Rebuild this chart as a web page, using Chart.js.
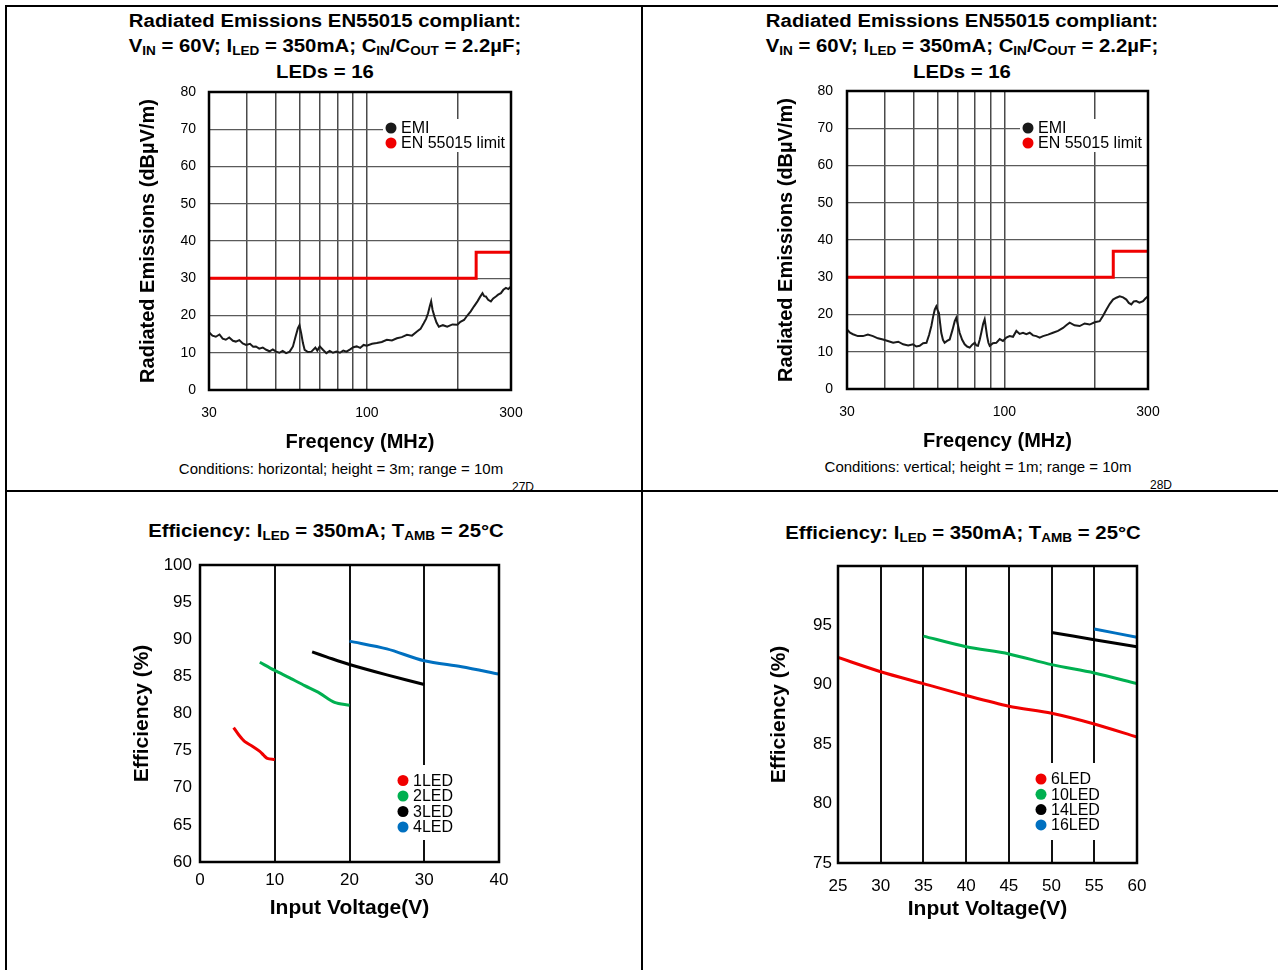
<!DOCTYPE html>
<html>
<head>
<meta charset="utf-8">
<script src="https://cdn.jsdelivr.net/npm/chart.js@4.4.1/dist/chart.umd.min.js"></script>
<style>
body { margin: 0; background: #fff; width: 1278px; height: 970px; overflow: hidden; position: relative;
       font-family: "Liberation Sans", Arial, Helvetica, sans-serif; color: #000; }
canvas { position: absolute; }
.rule { position: absolute; background: #000; z-index: 5; }
.ttl { position: absolute; width: 520px; text-align: center; font-weight: bold; font-size: 18px;
       line-height: 24.5px; transform: scaleX(1.13); white-space: nowrap; }
.ttl span { font-size: 12px; position: relative; top: 3px; }
.cond { position: absolute; width: 400px; text-align: center; font-size: 15px; line-height: 18px; white-space: nowrap; }
.tag { position: absolute; font-size: 12px; line-height: 14px; }
</style>
</head>
<body>

<div class="ttl" style="left:65px;top:9px">Radiated Emissions EN55015 compliant:<br>V<span>IN</span> = 60V; I<span>LED</span> = 350mA; C<span>IN</span>/C<span>OUT</span> = 2.2µF;<br>LEDs = 16</div>
<div class="ttl" style="left:702px;top:9px">Radiated Emissions EN55015 compliant:<br>V<span>IN</span> = 60V; I<span>LED</span> = 350mA; C<span>IN</span>/C<span>OUT</span> = 2.2µF;<br>LEDs = 16</div>
<div class="ttl" style="left:66px;top:519px">Efficiency: I<span>LED</span> = 350mA; T<span>AMB</span> = 25°C</div>
<div class="ttl" style="left:703px;top:521px">Efficiency: I<span>LED</span> = 350mA; T<span>AMB</span> = 25°C</div>

<canvas id="emiH" width="410" height="375" style="left:120px;top:80px"></canvas>
<canvas id="emiV" width="410" height="375" style="left:758px;top:80px"></canvas>
<canvas id="effLow" width="400" height="375" style="left:120px;top:550px"></canvas>
<canvas id="effHigh" width="400" height="375" style="left:758px;top:550px"></canvas>

<div class="cond" style="left:141px;top:460px">Conditions: horizontal; height = 3m; range = 10m</div>
<div class="cond" style="left:778px;top:458px">Conditions: vertical; height = 1m; range = 10m</div>
<div class="tag" style="left:512px;top:480px">27D</div>
<div class="tag" style="left:1150px;top:478px">28D</div>

<div class="rule" style="left:5px;top:5px;width:1273px;height:2px"></div>
<div class="rule" style="left:5px;top:5px;width:2px;height:965px"></div>
<div class="rule" style="left:641px;top:5px;width:2px;height:965px"></div>
<div class="rule" style="left:5px;top:490px;width:1273px;height:2px"></div>

<script>
// radiated emissions, horizontal antenna (MHz / dBuV/m)
var emi1Freq = [30, 30.8, 31.6, 32.5, 33.3, 34.1, 35, 36, 36.8, 37.8, 38.8, 39.8, 41, 42, 42.9, 44, 45.2, 46.4, 47.6, 48.8,
    50, 51.3, 52.6, 54, 55.5, 56.9, 58, 59.1, 59.8, 60.6, 61.4, 62.2, 63.8, 65.5, 67.5, 68.5, 69.8, 71.5, 73.4, 75.3,
    77.2, 79.3, 81.4, 83.5, 85.6, 88, 90.2, 92.5, 95, 97.5, 99.9, 104, 107.8, 112, 116.4, 121, 125.7, 130.5, 135.7, 141,
    146.5, 150.5, 154.2, 157, 159.4, 161.5, 163.2, 165, 167.4, 170, 173.1, 178.5, 184.5, 192, 199.3, 204, 209.7, 215,
    220.7, 226, 232.3, 237, 241.4, 244.5, 247.6, 252, 257.3, 262, 267.4, 272, 277.8, 283, 288.7, 294, 300];
var emi1Level = [15.5, 14.6, 14.3, 14.9, 13.8, 13.5, 14.1, 13.2, 13.0, 13.4, 12.5, 12.1, 12.4, 11.6, 11.7, 11.1, 11.4, 10.8, 10.4, 10.9,
    10.3, 10.0, 10.5, 9.9, 10.3, 11.7, 14.2, 16.6, 17.4, 15.2, 12.6, 10.8, 10.2, 10.3, 11.4, 10.6, 11.7, 10.8, 9.9, 10.5,
    10.0, 10.3, 10.0, 10.6, 10.3, 10.9, 11.5, 11.7, 11.3, 12.1, 11.9, 12.4, 12.6, 12.9, 13.5, 13.3, 13.9, 14.2, 14.8, 14.6,
    15.7, 16.4, 17.9, 19.1, 20.6, 22.5, 23.8, 21.5, 19.7, 18.1, 17.0, 17.4, 17.0, 17.6, 17.5, 18.3, 18.8, 20.0,
    21.1, 22.4, 23.8, 25.0, 26.0, 25.2, 25.1, 24.2, 23.8, 24.6, 25.1, 25.6, 26.0, 26.9, 27.4, 27.1, 27.8];

// radiated emissions, vertical antenna
var emi2Freq = [30, 30.7, 31.4, 32.6, 33.9, 35.2, 36.6, 38, 39.5, 41, 42.7, 44.4, 46.1, 47.9, 49.7, 51, 52.3, 53.7, 55.1, 56.2,
    57.2, 58, 58.7, 59.4, 60, 60.6, 61.2, 61.7, 62.5, 63.3, 64.5, 65.8, 67.2, 68.4, 69.2, 70, 71, 72.4, 73.8, 75.2,
    76.7, 78.2, 79.7, 80.7, 81.7, 82.8, 83.8, 85, 86, 86.8, 87.6, 88.5, 89.4, 91.6, 94, 96.5, 98.9, 101.5, 104.1, 106.8,
    109.6, 112.4, 115.3, 118.3, 121.4, 124.5, 127.7, 131, 134.4, 139.6, 145, 150.7, 156.6, 160.5, 164.8, 171, 177.9, 184.8,
    192, 199.5, 207.3, 212.5, 218.1, 223.7, 229.5, 235.5, 241.6, 248, 254.2, 259, 264.1, 269, 274.4, 281, 288.8, 294, 300];
var emi2Level = [16.0, 15.1, 14.7, 14.2, 14.2, 14.6, 14.2, 13.6, 13.3, 12.9, 12.4, 12.7, 12.0, 11.7, 12.0, 11.4, 11.6, 12.3, 12.4, 14.5,
    16.9, 19.5, 21.3, 22.2, 21.2, 20.4, 17.5, 15.1, 13.2, 12.4, 12.9, 13.3, 15.8, 18.2, 19.1, 17.4, 15.1, 13.2, 12.0, 11.4,
    11.1, 11.9, 12.4, 11.7, 11.6, 13.2, 15.1, 17.5, 18.7, 16.5, 14.2, 12.4, 11.6, 12.3, 12.4, 13.4, 12.9, 13.8, 14.2, 14.0,
    15.6, 14.8, 15.1, 14.7, 15.1, 14.4, 14.2, 13.8, 14.2, 14.6, 15.1, 15.6, 16.4, 17.1, 17.8, 17.1, 16.9, 17.6,
    17.3, 17.9, 18.2, 19.6, 21.3, 22.8, 24.0, 24.5, 24.9, 24.6, 24.0, 23.1, 22.7, 23.5, 23.6, 23.2, 23.6, 24.3, 24.9];

// EN 55015 limit
var limitFreq = [30, 230, 230, 300];
var limitLevel = [30, 30, 37, 37];

var freqTicks = [30, 40, 50, 60, 70, 80, 90, 100, 200, 300];
var freqLabels = [30, 100, 300];

// efficiency, 1..4 LEDs
var vin1 = [4.5, 5.2, 6, 7, 8, 8.5, 9, 10];
var eff1 = [78.1, 77.1, 76.2, 75.6, 74.9, 74.4, 73.95, 73.8];
var vin2 = [8, 10, 12, 14, 16, 18, 20];
var eff2 = [86.9, 85.8, 84.8, 83.75, 82.75, 81.5, 81.1];
var vin3 = [15, 17, 20, 25, 30];
var eff3 = [88.3, 87.6, 86.6, 85.2, 83.9];
var vin4 = [20, 25, 30, 35, 40];
var eff4 = [89.75, 88.7, 87.1, 86.3, 85.3];

// efficiency, 6..16 LEDs
var vin6 = [25, 30, 35, 40, 45, 50, 55, 60];
var eff6 = [92.3, 91.1, 90.1, 89.1, 88.2, 87.6, 86.7, 85.6];
var vin10 = [35, 40, 45, 50, 55, 60];
var eff10 = [94.1, 93.2, 92.6, 91.7, 91.0, 90.1];
var vin14 = [50, 55, 60];
var eff14 = [94.4, 93.8, 93.2];
var vin16 = [55, 60];
var eff16 = [94.7, 94.0];

var RED = '#f00000', GREEN = '#00b050', BLACK = '#000000', BLUE = '#0070c0';

Chart.defaults.font.family = '"Liberation Sans", Arial, Helvetica, sans-serif';
Chart.defaults.color = '#000';
Chart.defaults.animation = false;

function pts(xs, ys) {
    return xs.map(function (x, i) { return { x: x, y: ys[i] }; });
}

function series(label, xs, ys, color, width, tension) {
    return {
        label: label, data: pts(xs, ys), borderColor: color, backgroundColor: color,
        borderWidth: width, pointRadius: 0, showLine: true, tension: tension
    };
}

// fixed axis boxes, so the plot area sits where the layout padding says
function fixX(h) {
    return function (s) { s.height = h; s.paddingLeft = 0; s.paddingRight = 0; };
}
function fixY(w) {
    return function (s) { s.width = w; s.paddingTop = 0; s.paddingBottom = 0; };
}

// white legend box inside the plot + heavy frame round the plot area
var framePlugin = {
    id: 'frame',
    beforeDatasetsDraw: function (chart, args, opts) {
        var lg = opts.legend;
        if (!lg) return;
        var ctx = chart.ctx;
        ctx.save();
        ctx.fillStyle = '#fff';
        ctx.fillRect(lg.box[0], lg.box[1], lg.box[2], lg.box[3]);
        ctx.font = '16px "Liberation Sans", Arial, sans-serif';
        ctx.textBaseline = 'middle';
        chart.data.datasets.forEach(function (ds, i) {
            var y = lg.y + i * lg.step;
            ctx.fillStyle = ds.borderColor;
            ctx.beginPath();
            ctx.arc(lg.x, y, 5.5, 0, Math.PI * 2);
            ctx.fill();
            ctx.fillStyle = '#000';
            ctx.fillText(ds.label, lg.x + 10, y + 1);
        });
        ctx.restore();
    },
    afterDatasetsDraw: function (chart) {
        var a = chart.chartArea, ctx = chart.ctx;
        ctx.save();
        ctx.strokeStyle = '#000';
        ctx.lineWidth = 2.5;
        ctx.strokeRect(a.left, a.top, a.right - a.left, a.bottom - a.top);
        ctx.restore();
    }
};

function emiChart(id, emiFreq, emiLevel, pad, xTitlePad, yTickPad) {
    return new Chart(document.getElementById(id), {
        type: 'scatter',
        data: {
            datasets: [
                series('EMI', emiFreq, emiLevel, '#1a1a1a', 2, 0),
                series('EN 55015 limit', limitFreq, limitLevel, RED, 3, 0)
            ]
        },
        options: {
            responsive: false,
            layout: { padding: { top: pad.top, right: pad.right } },
            plugins: {
                legend: { display: false },
                tooltip: { enabled: false },
                frame: { legend: pad.legend }
            },
            scales: {
                x: {
                    type: 'logarithmic', min: 30, max: 300,
                    afterBuildTicks: function (s) { s.ticks = freqTicks.map(function (v) { return { value: v }; }); },
                    ticks: {
                        autoSkip: false, maxRotation: 0, padding: 15, font: { size: 14 },
                        callback: function (v) { return freqLabels.indexOf(v) >= 0 ? String(v) : ''; }
                    },
                    grid: { color: '#4a4a4a', lineWidth: 1.5, drawTicks: false },
                    border: { display: false },
                    title: { display: true, text: 'Freqency (MHz)', font: { size: 20, weight: 'bold' }, padding: { top: 0, bottom: xTitlePad } },
                    afterFit: fixX(375 - pad.bottom)
                },
                y: {
                    min: 0, max: 80,
                    ticks: { stepSize: 10, padding: yTickPad, font: { size: 14 } },
                    grid: { color: '#5a5a5a', lineWidth: 1.3, drawTicks: false },
                    border: { display: false },
                    title: { display: true, text: 'Radiated Emissions (dBµV/m)', font: { size: 20, weight: 'bold' }, padding: { top: 16, bottom: 0 } },
                    afterFit: fixY(pad.left)
                }
            }
        },
        plugins: [framePlugin]
    });
}

function effChart(id, datasets, xr, yr, pad) {
    return new Chart(document.getElementById(id), {
        type: 'scatter',
        data: { datasets: datasets },
        options: {
            responsive: false,
            layout: { padding: { top: pad.top, right: pad.right } },
            plugins: {
                legend: { display: false },
                tooltip: { enabled: false },
                frame: { legend: pad.legend }
            },
            scales: {
                x: {
                    min: xr[0], max: xr[1],
                    ticks: { stepSize: xr[2], padding: pad.xTickPad, font: { size: 17 } },
                    grid: { color: '#111', lineWidth: 2, drawTicks: false },
                    border: { display: false },
                    title: { display: true, text: 'Input Voltage(V)', font: { size: 21, weight: 'bold' }, padding: { top: 0, bottom: pad.xTitlePad } },
                    afterFit: fixX(375 - pad.bottom)
                },
                y: {
                    min: yr[0], max: yr[1],
                    ticks: {
                        stepSize: yr[2], padding: pad.yTickPad, font: { size: 17 },
                        callback: function (v) { return v > yr[3] ? '' : String(v); }
                    },
                    grid: { display: false, drawTicks: false },
                    border: { display: false },
                    title: { display: true, text: 'Efficiency (%)', font: { size: 21, weight: 'bold' }, padding: { top: pad.yTitlePad, bottom: 0 } },
                    afterFit: fixY(pad.left)
                }
            }
        },
        plugins: [framePlugin]
    });
}

emiChart('emiH', emi1Freq, emi1Level,
    { left: 89, right: 19, top: 12, bottom: 310, legend: { x: 271, y: 48, step: 15, box: [263, 39, 128, 33] } }, 1, 13);
emiChart('emiV', emi2Freq, emi2Level,
    { left: 89, right: 20, top: 11, bottom: 309, legend: { x: 270, y: 48, step: 15, box: [262, 39, 128, 33] } }, 2, 14);

effChart('effLow', [
    series('1LED', vin1, eff1, RED, 3, 0.3),
    series('2LED', vin2, eff2, GREEN, 3, 0.3),
    series('3LED', vin3, eff3, BLACK, 3, 0.3),
    series('4LED', vin4, eff4, BLUE, 3, 0.3)
], [0, 40, 10], [60, 100, 5, 100],
    { left: 80, right: 21, top: 15, bottom: 312, xTickPad: 8, xTitlePad: 4, yTickPad: 8, yTitlePad: 10,
      legend: { x: 283, y: 230.5, step: 15.5, box: [275, 215, 66, 75] } });

effChart('effHigh', [
    series('6LED', vin6, eff6, RED, 3, 0.3),
    series('10LED', vin10, eff10, GREEN, 3, 0.3),
    series('14LED', vin14, eff14, BLACK, 3, 0.3),
    series('16LED', vin16, eff16, BLUE, 3, 0.3)
], [25, 60, 5], [75, 100, 5, 95],
    { left: 80, right: 21, top: 16, bottom: 313, xTickPad: 13, xTitlePad: 3, yTickPad: 6, yTitlePad: 9,
      legend: { x: 283, y: 229, step: 15.3, box: [272, 213, 74, 77] } });
</script>
</body>
</html>
